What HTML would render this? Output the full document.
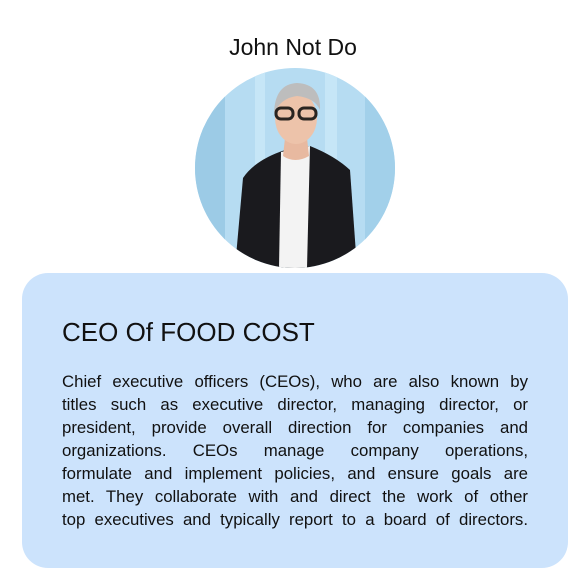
<!DOCTYPE html>
<html><head><meta charset="utf-8"><style>
body{margin:0;width:586px;height:577px;background:#fff;position:relative;overflow:hidden;font-family:"Liberation Sans",sans-serif;}
#name{position:absolute;left:0;width:586px;top:34px;text-align:center;font-size:23px;color:#111;}
#photo{position:absolute;left:195px;top:68px;}
#card{position:absolute;left:22px;top:273px;width:546px;height:295px;background:#cce3fc;border-radius:26px;}
#title{position:absolute;left:40px;top:44px;font-size:26px;color:#111;}
#desc{position:absolute;left:40px;top:97px;width:466px;font-size:16.8px;line-height:23px;color:#111;}
#desc div{text-align:justify;text-align-last:justify;white-space:nowrap;}
</style></head><body>
<div id="name">John Not Do</div>
<svg id="photo" width="200" height="200" viewBox="0 0 200 200">
<defs><clipPath id="c"><circle cx="100" cy="100" r="100"/></clipPath></defs>
<g clip-path="url(#c)">
<rect width="200" height="200" fill="#b6dcf2"/>
<rect x="0" y="0" width="30" height="200" fill="#9ccbe6"/>
<rect x="170" y="0" width="30" height="200" fill="#a2d0ea"/>
<rect x="60" y="0" width="10" height="200" fill="#c6e6f7"/>
<rect x="130" y="0" width="12" height="200" fill="#c6e6f7"/>
<path d="M40 200 L48 110 Q60 92 90 82 L115 78 Q140 88 155 102 L162 200 Z" fill="#1a1a1e"/>
<path d="M86 84 L115 78 L112 200 L84 200 Z" fill="#f3f3f3"/>
<path d="M90 70 L112 70 L114 88 Q100 96 88 88 Z" fill="#e8b9a0"/>
<ellipse cx="101" cy="50" rx="21" ry="26" fill="#edc3aa"/>
<path d="M79 45 Q80 16 102 15 Q126 16 125 42 Q120 30 102 28 Q86 30 79 45 Z" fill="#bdbdbd"/>
<rect x="81" y="40" width="17" height="11" rx="5" fill="none" stroke="#2a2420" stroke-width="3"/>
<rect x="104" y="40" width="17" height="11" rx="5" fill="none" stroke="#2a2420" stroke-width="3"/>
</g></svg>
<div id="card">
<div id="title">CEO Of FOOD COST</div>
<div id="desc">
<div>Chief executive officers (CEOs), who are also known by</div>
<div>titles such as executive director, managing director, or</div>
<div>president, provide overall direction for companies and</div>
<div>organizations. CEOs manage company operations,</div>
<div>formulate and implement policies, and ensure goals are</div>
<div>met. They collaborate with and direct the work of other</div>
<div>top executives and typically report to a board of directors.</div>
</div>
</div>
</body></html>
